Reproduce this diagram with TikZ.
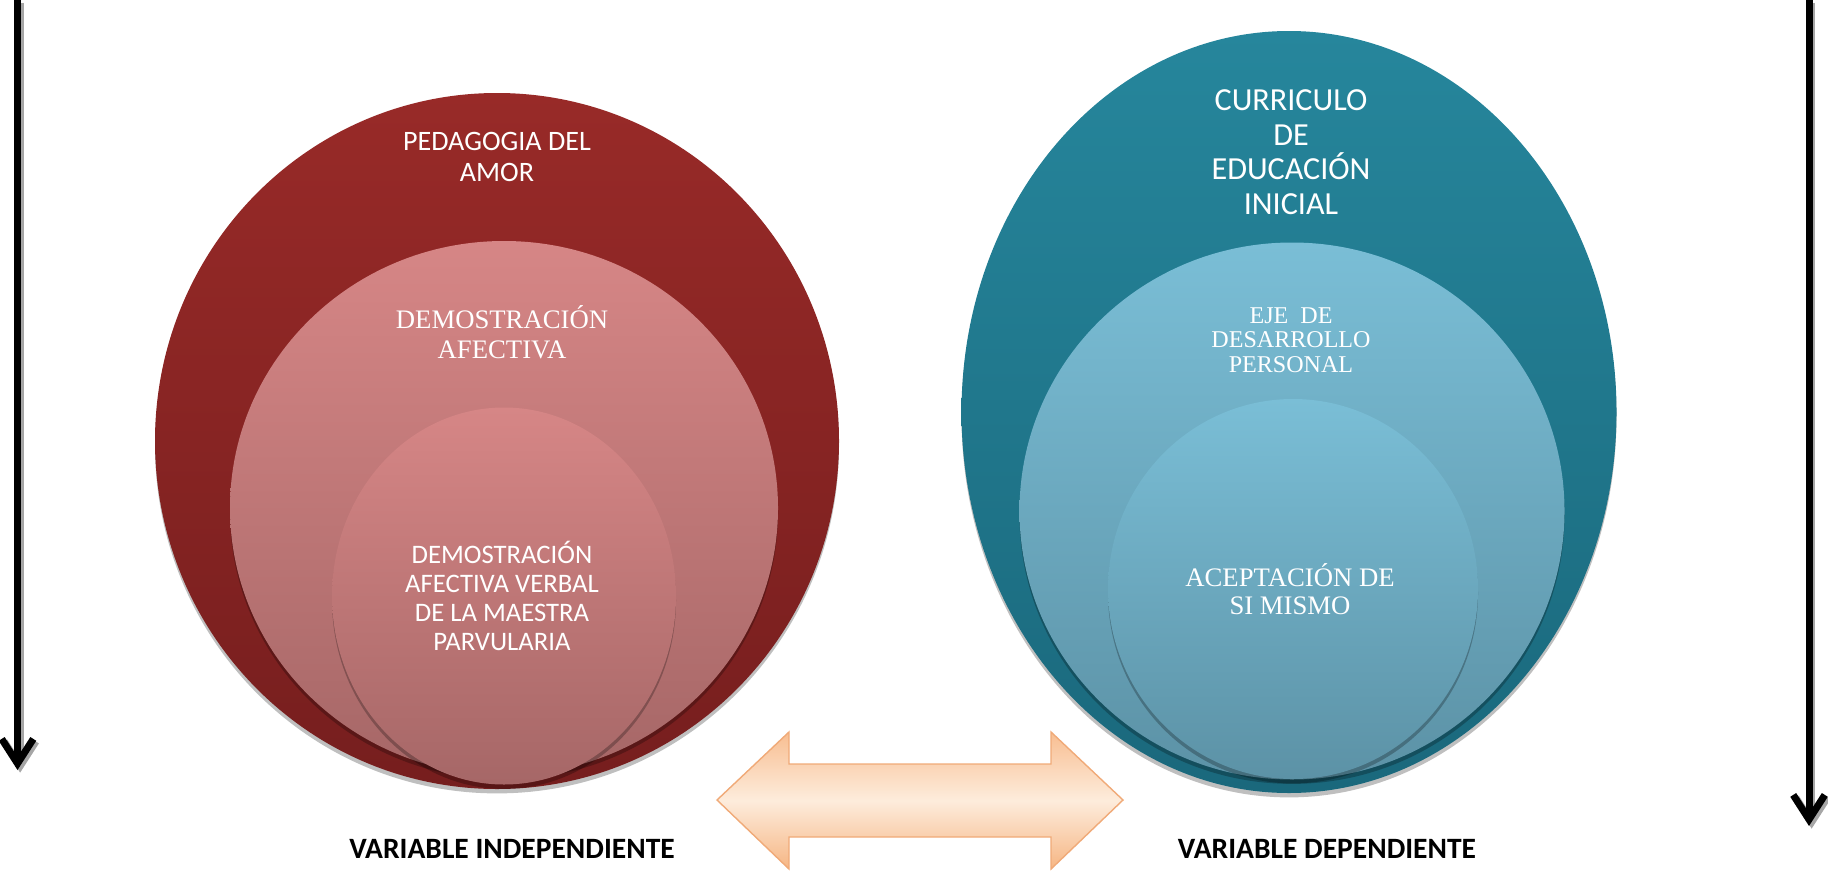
\documentclass[tikz,border=0pt]{standalone}
\usepackage{fontspec}
\setmainfont{Liberation Serif}
\setsansfont{Carlito}
\usetikzlibrary{arrows.meta,shapes.geometric,shadows}
\definecolor{redTop}{RGB}{152,42,40}
\definecolor{redBot}{RGB}{118,30,30}
\definecolor{pinkTop}{RGB}{214,134,134}
\definecolor{pinkBot}{RGB}{166,103,103}
\definecolor{tealTop}{RGB}{38,134,156}
\definecolor{tealBot}{RGB}{26,104,124}
\definecolor{blueTop}{RGB}{122,190,214}
\definecolor{blueBot}{RGB}{92,146,166}
\definecolor{peachA}{RGB}{248,190,145}
\definecolor{peachB}{RGB}{253,236,220}
\definecolor{peachC}{RGB}{246,182,132}
\definecolor{peachLine}{RGB}{240,170,120}
\tikzset{
  bubble/.style={ellipse, inner sep=0pt, draw=none,
    drop shadow={shadow xshift=0pt, shadow yshift=-2.5pt, opacity=0.25, fill=black}},
  redbig/.style={bubble, top color=redTop, bottom color=redBot},
  pinkc/.style={bubble, top color=pinkTop, bottom color=pinkBot},
  tealbig/.style={bubble, top color=tealTop, bottom color=tealBot},
  bluec/.style={bubble, top color=blueTop, bottom color=blueBot},
  lbl/.style={text=white, align=center, inner sep=0pt},
  vlabel/.style={text=black, font=\sffamily\bfseries\fontsize{16.8}{19}\selectfont, inner sep=0pt},
  vline/.style={line width=4pt, -{Straight Barb[length=14pt,width=18pt,line width=4pt]}}
}
\begin{document}
\begin{tikzpicture}[x=0.02cm, y=-0.02cm]
\useasboundingbox (0,0) rectangle (1828,872);
% left set
\node[redbig, minimum width=684*0.02cm, minimum height=696*0.02cm] (lo) at (497,441) {};
\node[pinkc, minimum width=548*0.02cm, minimum height=534*0.02cm] (lm) at (504,508) {};
\node[pinkc, minimum width=344*0.02cm, minimum height=377*0.02cm] (li) at (504,596) {};
% right set
\node[tealbig, minimum width=655*0.02cm, minimum height=762*0.02cm] (ro) at (1289,412) {};
\node[bluec, minimum width=545*0.02cm, minimum height=537*0.02cm] (rm) at (1292,511) {};
\node[bluec, minimum width=370*0.02cm, minimum height=380*0.02cm] (ri) at (1293,589) {};
% texts
\node[lbl, font=\sffamily\fontsize{16}{17.6}\selectfont] (tlo) at (497,157) {PEDAGOGIA DEL\\AMOR};
\node[lbl, font=\rmfamily\fontsize{15.2}{17}\selectfont] (tlm) at (502,332) {DEMOSTRACIÓN\\AFECTIVA};
\node[lbl, font=\sffamily\fontsize{15.2}{16.4}\selectfont] (tli) at (502,596) {DEMOSTRACIÓN\\AFECTIVA VERBAL\\DE LA MAESTRA\\PARVULARIA};
\node[lbl, font=\sffamily\fontsize{18.3}{19.7}\selectfont] (tro) at (1291,152) {CURRICULO\\DE\\EDUCACIÓN\\INICIAL};
\node[lbl, font=\rmfamily\fontsize{13.7}{14}\selectfont] (trm) at (1291,340) {EJE~~DE\\DESARROLLO\\PERSONAL};
\node[lbl, font=\rmfamily\fontsize{15.2}{16}\selectfont] (tri) at (1290,589) {ACEPTACIÓN DE\\SI MISMO};
% double arrow
\path[draw=peachLine, line width=0.8pt, top color=peachA, bottom color=peachC, middle color=peachB]
  (717,800) -- (789,732) -- (789,764) -- (1051,764) -- (1051,732) -- (1123,800)
  -- (1051,869) -- (1051,837) -- (789,837) -- (789,869) -- cycle;
% labels
\node[vlabel] (vi) at (512,849) {VARIABLE INDEPENDIENTE};
\node[vlabel] (vd) at (1327,849) {VARIABLE DEPENDIENTE};
% vertical arrows
\coordinate (la0) at (17.5,0);
\coordinate (la1) at (17.5,770);
\coordinate (ra0) at (1809,0);
\coordinate (ra1) at (1809,826);
\draw[vline, black!35, transform canvas={xshift=1.5pt, yshift=-1.5pt}] (la0) -- (la1);
\draw[vline, black!35, transform canvas={xshift=1.5pt, yshift=-1.5pt}] (ra0) -- (ra1);
\draw[vline] (la0) -- (la1);
\draw[vline] (ra0) -- (ra1);
\end{tikzpicture}
\end{document}
